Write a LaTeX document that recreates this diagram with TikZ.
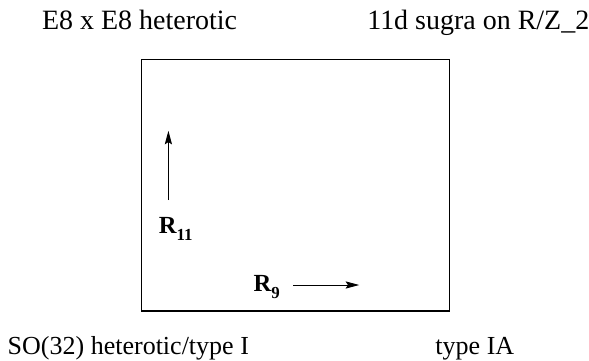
\documentclass[tikz,border=0pt]{standalone}
\usepackage{fontspec}
\setmainfont{Liberation Serif}
\usetikzlibrary{arrows.meta, positioning}
\definecolor{cblack}{HTML}{000000}
\tikzset{
  every picture/.style={line width=0.7pt},
  label/.style={anchor=base west, inner sep=0pt, font=\fontsize{18.5}{22}\selectfont},
  toplabel/.style={label, font=\fontsize{19.9}{23}\selectfont},
  radius/.style={anchor=base west, inner sep=0pt, font=\fontsize{17.5}{20}\selectfont\bfseries},
  frame/.style={draw=cblack, line width=0.9pt},
  arrow/.style={-{Stealth[length=3.4mm, width=1.8mm, inset=0.6mm]}, draw=cblack, line width=0.7pt},
}
\newcommand{\rsub}[1]{\raisebox{-5.5pt}{\fontsize{12}{14}\selectfont\bfseries #1}}
\begin{document}
\begin{tikzpicture}
  \useasboundingbox (0,0) rectangle (14.725,9);

  % corner labels
  \node[toplabel] (het) at (1.04,8.27) {E8 x E8 heterotic};
  \node[toplabel] (sugra) at (9.17,8.27) {11d sugra on R/Z\_2};
  \node[label] (so) at (0.18,0.15) {SO(32) heterotic/type I};
  \node[label] (ia) at (10.875,0.15) {type IA};

  % moduli space
  \node[frame, minimum width=7.7cm, minimum height=6.29cm, inner sep=0pt, anchor=south west] (space) at (3.52,1.21) {};

  % radii
  \node[radius] (r11) at (3.96,3.17) {R\rsub{11}};
  \node[radius] (r9) at (6.33,1.725) {R\rsub{9}};
  \coordinate (r11a) at (4.21,4.0);
  \coordinate (r11b) at (4.21,5.73);
  \coordinate (r9a) at (7.33,1.875);
  \coordinate (r9b) at (8.98,1.875);
  \draw[arrow] (r11a) -- (r11b);
  \draw[arrow] (r9a) -- (r9b);
\end{tikzpicture}
\end{document}
